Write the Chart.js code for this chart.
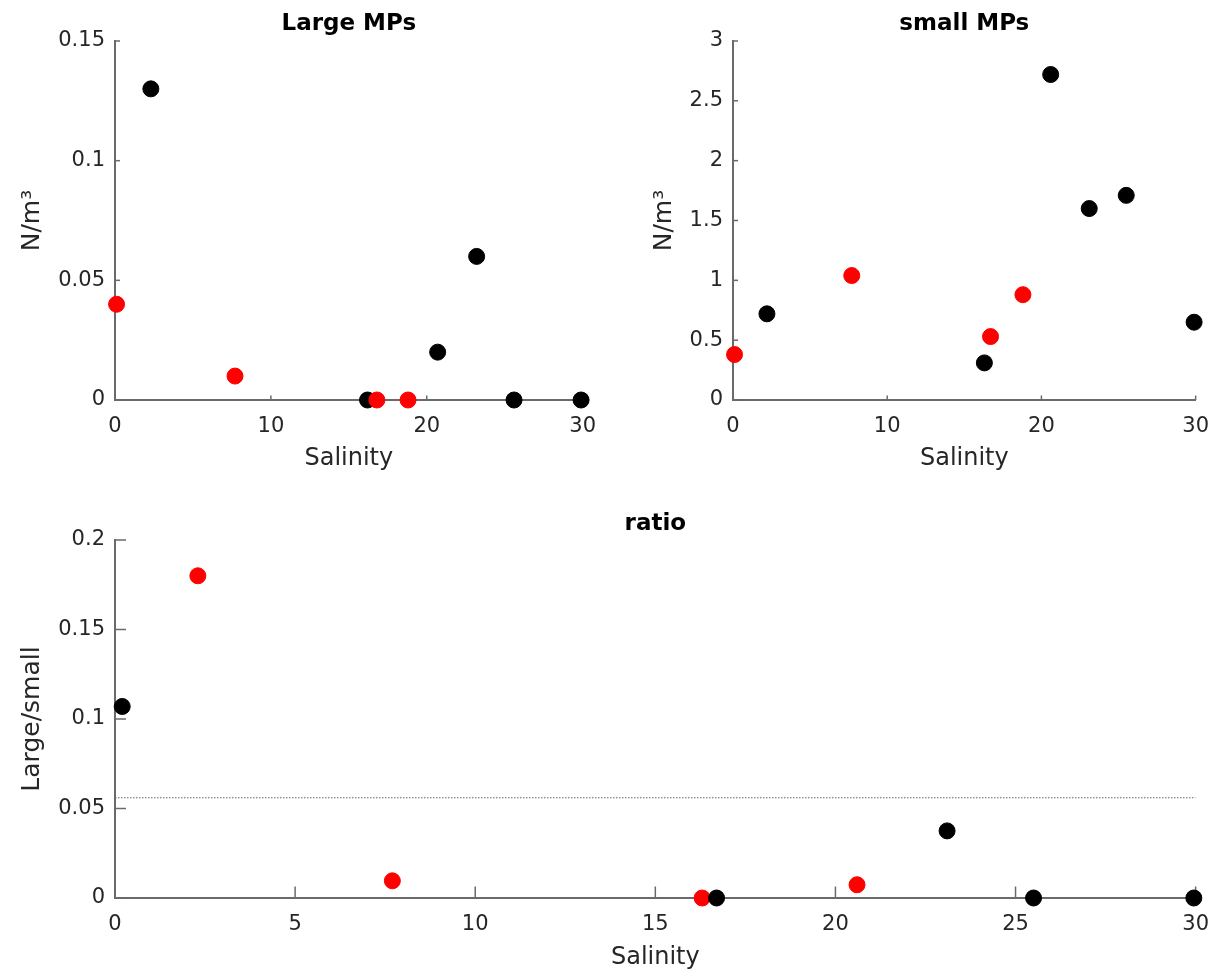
<!DOCTYPE html>
<html>
<head>
<meta charset="utf-8">
<script src="https://cdn.jsdelivr.net/npm/chart.js@4/dist/chart.umd.min.js"></script>
<style>
  body { margin: 0; background: #fff; }
  canvas { position: absolute; }
</style>
</head>
<body>
<canvas id="large" width="610" height="480" style="left:0px;top:0px;width:610px;height:480px"></canvas>
<canvas id="small" width="613" height="480" style="left:610px;top:0px;width:613px;height:480px"></canvas>
<canvas id="ratio" width="1223" height="500" style="left:0px;top:475px;width:1223px;height:500px"></canvas>
<script>
// Large MPs
const largeBlackX = [2.3, 16.2, 20.7, 23.2, 25.6, 29.9];
const largeBlackY = [0.13, 0, 0.02, 0.06, 0, 0];
const largeRedX = [0.1, 7.7, 16.8, 18.8];
const largeRedY = [0.04, 0.01, 0, 0];
const largeYTicks = [0, 0.05, 0.1, 0.15];

// small MPs
const smallBlackX = [2.2, 16.3, 20.6, 23.1, 25.5, 29.9];
const smallBlackY = [0.72, 0.31, 2.72, 1.6, 1.71, 0.65];
const smallRedX = [0.1, 7.7, 16.7, 18.8];
const smallRedY = [0.38, 1.04, 0.53, 0.88];
const smallYTicks = [0, 0.5, 1, 1.5, 2, 2.5, 3];

// ratio
const ratioBlackX = [0.2, 16.7, 23.1, 25.5, 29.95];
const ratioBlackY = [0.107, 0, 0.0375, 0, 0];
const ratioRedX = [2.3, 7.7, 16.3, 20.6];
const ratioRedY = [0.18, 0.0096, 0, 0.0074];
const ratioRefLine = 0.056;
const ratioYTicks = [0, 0.05, 0.1, 0.15, 0.2];

const topXTicks = [0, 10, 20, 30];
const ratioXTicks = [0, 5, 10, 15, 20, 25, 30];

const axisColor = '#6a6a6a';
const textColor = '#262626';
const fontFamily = '"DejaVu Sans", sans-serif';

Chart.defaults.font.family = fontFamily;
Chart.defaults.color = textColor;

function pts(xs, ys) {
  return xs.map((x, i) => ({ x: x, y: ys[i] }));
}

// MATLAB style ticks pointing into the axes
const inwardTicks = {
  id: 'inwardTicks',
  beforeDatasetsDraw(chart, args, opts) {
    const { ctx, chartArea, scales } = chart;
    ctx.save();
    ctx.strokeStyle = axisColor;
    ctx.lineWidth = 1.5;
    scales.x.ticks.forEach(t => {
      const px = scales.x.getPixelForValue(t.value);
      ctx.beginPath();
      ctx.moveTo(px, chartArea.bottom);
      ctx.lineTo(px, chartArea.bottom - opts.x);
      ctx.stroke();
    });
    scales.y.ticks.forEach(t => {
      const py = scales.y.getPixelForValue(t.value);
      ctx.beginPath();
      ctx.moveTo(chartArea.left, py);
      ctx.lineTo(chartArea.left + opts.y, py);
      ctx.stroke();
    });
    ctx.restore();
  }
};

const panelTitle = {
  id: 'panelTitle',
  afterDraw(chart, args, opts) {
    const { ctx, chartArea } = chart;
    ctx.save();
    ctx.font = 'bold 23px ' + fontFamily;
    ctx.fillStyle = '#000';
    ctx.textAlign = 'center';
    ctx.textBaseline = 'alphabetic';
    ctx.fillText(opts.text, (chartArea.left + chartArea.right) / 2, opts.y);
    ctx.restore();
  }
};

function makeChart(id, o) {
  const datasets = o.datasets.map(d => ({
    data: d.data,
    backgroundColor: d.color,
    borderColor: d.color,
    pointRadius: 8,
    pointBorderWidth: 1,
    showLine: false,
    clip: false
  }));
  if (o.refLine !== undefined) {
    datasets.push({
      type: 'line',
      data: [{ x: 0, y: o.refLine }, { x: 30, y: o.refLine }],
      borderColor: '#666',
      borderWidth: 1,
      borderDash: [1.5, 1.5],
      pointRadius: 0,
      fill: false
    });
  }
  return new Chart(document.getElementById(id), {
    type: 'scatter',
    data: { datasets: datasets },
    plugins: [inwardTicks, panelTitle],
    options: {
      responsive: false,
      animation: false,
      layout: { padding: o.padding },
      plugins: {
        legend: { display: false },
        tooltip: { enabled: false },
        inwardTicks: o.tickLen,
        panelTitle: { text: o.title, y: o.titleY }
      },
      scales: {
        x: {
          type: 'linear',
          min: 0, max: 30,
          afterBuildTicks: s => { s.ticks = o.xTicks.map(v => ({ value: v })); },
          afterFit: s => { s.height = o.xHeight; },
          grid: { display: false, drawTicks: false },
          border: { display: true, color: axisColor, width: 2 },
          ticks: { padding: 14, font: { size: 21 }, color: textColor, maxRotation: 0 },
          title: { display: true, text: 'Salinity', font: { size: 24 }, color: textColor, padding: { top: 0, bottom: o.xTitlePad } }
        },
        y: {
          type: 'linear',
          min: o.yTicks[0], max: o.yTicks[o.yTicks.length - 1],
          afterBuildTicks: s => { s.ticks = o.yTicks.map(v => ({ value: v })); },
          afterFit: s => { s.width = o.yWidth; },
          grid: { display: false, drawTicks: false },
          border: { display: true, color: axisColor, width: 2 },
          ticks: { padding: 10, font: { size: 21 }, color: textColor, callback: v => String(+v.toFixed(4)) },
          title: { display: true, text: o.yTitle, font: { size: 25 }, color: textColor, padding: { top: o.yTitlePad, bottom: 0 } }
        }
      }
    }
  });
}

makeChart('large', {
  title: 'Large MPs', titleY: 30,
  datasets: [
    { data: pts(largeRedX, largeRedY), color: '#ff0000' },
    { data: pts(largeBlackX, largeBlackY), color: '#000000' }
  ],
  xTicks: topXTicks, yTicks: largeYTicks,
  padding: { left: 0, right: 27, top: 41, bottom: 0 },
  xHeight: 80, yWidth: 115, xTitlePad: 7, yTitlePad: 17,
  yTitle: 'N/m³',
  tickLen: { x: 4.5, y: 5 }
});

makeChart('small', {
  title: 'small MPs', titleY: 30,
  datasets: [
    { data: pts(smallRedX, smallRedY), color: '#ff0000' },
    { data: pts(smallBlackX, smallBlackY), color: '#000000' }
  ],
  xTicks: topXTicks, yTicks: smallYTicks,
  padding: { left: 0, right: 21, top: 41, bottom: 0 },
  xHeight: 80, yWidth: 123, xTitlePad: 7, yTitlePad: 39,
  yTitle: 'N/m³',
  tickLen: { x: 4.5, y: 5 }
});

makeChart('ratio', {
  title: 'ratio', titleY: 55,
  datasets: [
    { data: pts(ratioBlackX, ratioBlackY), color: '#000000' },
    { data: pts(ratioRedX, ratioRedY), color: '#ff0000' }
  ],
  refLine: ratioRefLine,
  xTicks: ratioXTicks, yTicks: ratioYTicks,
  padding: { left: 0, right: 22, top: 65, bottom: 0 },
  xHeight: 77, yWidth: 115, xTitlePad: 3, yTitlePad: 17,
  yTitle: 'Large/small',
  tickLen: { x: 11.5, y: 11 }
});
</script>
</body>
</html>
